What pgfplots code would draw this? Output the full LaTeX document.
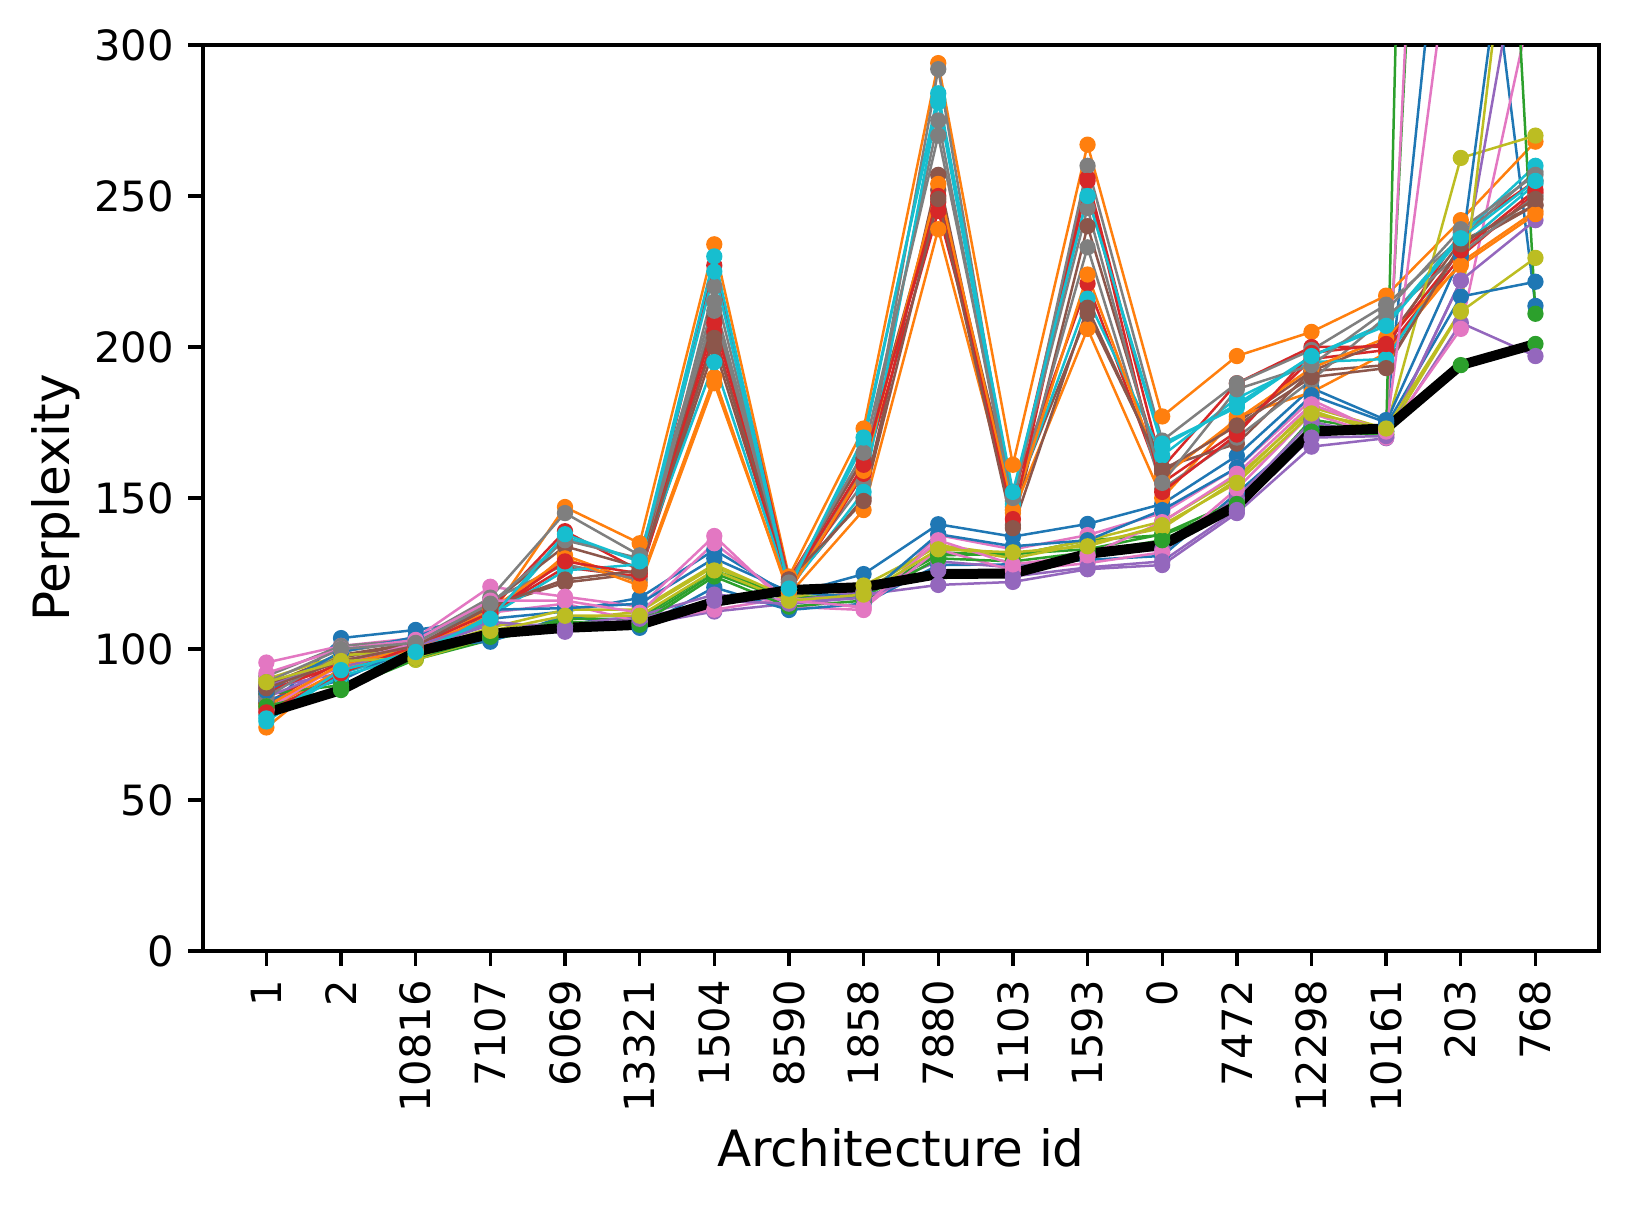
\documentclass[border=0pt]{standalone}
\usepackage{fontspec}
\setmainfont{DejaVu Sans}
\usepackage{pgfplots}
\pgfplotsset{compat=1.18}
\definecolor{tb}{HTML}{1F77B4}
\definecolor{to}{HTML}{FF7F0E}
\definecolor{tg}{HTML}{2CA02C}
\definecolor{tr}{HTML}{D62728}
\definecolor{tp}{HTML}{9467BD}
\definecolor{tn}{HTML}{8C564B}
\definecolor{tk}{HTML}{E377C2}
\definecolor{ty}{HTML}{7F7F7F}
\definecolor{tl}{HTML}{BCBD22}
\definecolor{tc}{HTML}{17BECF}
\pgfplotsset{ser/.style={color=#1, mark=*, mark size=1.8pt, line width=0.6pt, mark options={solid, line width=0.3pt}}}
\begin{document}
\begin{tikzpicture}
\useasboundingbox (-48.7pt,-61.4pt) rectangle (342.7pt,228.2pt);
\begin{axis}[at={(0,0)}, anchor=south west, scale only axis, width=335pt, height=217.4pt,
  xmin=-0.85, xmax=17.85, ymin=0, ymax=300,
  xtick={0,...,17},
  xticklabels={1,2,10816,7107,6069,13321,1504,8590,1858,7880,1103,1593,0,7472,12298,10161,203,768},
  xticklabel style={rotate=90, anchor=east},
  ytick={0,50,...,300},
  tick align=outside, tick pos=left, major tick length=3.5pt,
  axis line style={line width=0.8pt},
  every tick/.style={black, line width=0.8pt},
  xlabel={Architecture id}, ylabel={Perplexity},
  xlabel shift=-3pt, ylabel shift=-3.5pt,
  label style={font=\fontsize{12}{14}\selectfont},
  ticklabel style={font=\fontsize{10}{12}\selectfont},
  /pgf/number format/assume math mode=true,
  clip=true]
\addplot[ser=tb] coordinates {(0,80)(1,103.6)(2,106.3)(3,110)(4,112.4)(5,116.9)(6,132.8)(7,118)(8,124.8)(9,141.3)(10,137.2)(11,141.4)(12,148)(13,164)(14,186.4)(15,175.8)(16,414)(17,213.6)};
\addplot[ser=to] coordinates {(0,74)(1,94)(2,100)(3,111)(4,147)(5,135)(6,234)(7,124)(8,173)(9,294)(10,161)(11,267)(12,177)(13,197)(14,205)(15,217)(16,242)(17,268)};
\addplot[ser=tg] coordinates {(0,82)(1,86.4)(2,96.5)(3,103)(4,108)(5,109)(6,125)(7,116)(8,117)(9,132)(10,131)(11,136)(12,137.7)(13,147)(14,174)(15,172)(16,194)(17,201)};
\addplot[ser=tr] coordinates {(0,82)(1,96)(2,101)(3,113)(4,139)(5,126)(6,227)(7,123)(8,163)(9,248)(10,150)(11,256)(12,160)(13,188)(14,200)(15,200)(16,238)(17,255)};
\addplot[ser=tp] coordinates {(0,87)(1,92)(2,99)(3,106)(4,105.7)(5,108)(6,112.4)(7,115)(8,118)(9,121.2)(10,122.2)(11,126.4)(12,127.8)(13,145)(14,167)(15,169.8)(16,208)(17,197)};
\addplot[ser=tn] coordinates {(0,85)(1,97)(2,102)(3,114)(4,122)(5,125)(6,200)(7,121)(8,150)(9,257)(10,141)(11,240)(12,158)(13,175)(14,192)(15,194)(16,233)(17,247)};
\addplot[ser=tk] coordinates {(0,95.5)(1,101)(2,103.6)(3,120.6)(4,117.3)(5,114)(6,137.4)(7,114)(8,112.9)(9,137.7)(10,133)(11,137.7)(12,145)(13,160)(14,182.5)(15,171)(16,206)(17,320)};
\addplot[ser=ty] coordinates {(0,91)(1,101)(2,103)(3,117)(4,145)(5,131)(6,215)(7,122)(8,155)(9,292)(10,147)(11,260)(12,169)(13,188)(14,199)(15,214)(16,236)(17,258)};
\addplot[ser=tl] coordinates {(0,88)(1,97)(2,96.4)(3,104)(4,109.6)(5,112.4)(6,127.3)(7,116.2)(8,119)(9,134.4)(10,131)(11,136)(12,142.2)(13,157)(14,179)(15,171)(16,211.7)(17,229.5)};
\addplot[ser=tc] coordinates {(0,76)(1,92)(2,99)(3,109)(4,137)(5,129)(6,230)(7,120)(8,168)(9,284)(10,151)(11,250)(12,167)(13,181)(14,197)(15,208)(16,237)(17,260)};
\addplot[ser=tb] coordinates {(0,83)(1,89.7)(2,101)(3,102.4)(4,111)(5,107)(6,120.4)(7,112.9)(8,115)(9,127.8)(10,128)(11,129.5)(12,130.8)(13,151.6)(14,173)(15,174)(16,216.7)(17,221.6)};
\addplot[ser=to] coordinates {(0,80)(1,93)(2,100)(3,110)(4,131)(5,122)(6,190)(7,118)(8,146)(9,239)(10,145)(11,206)(12,150)(13,177)(14,185)(15,198)(16,228)(17,245)};
\addplot[ser=tg] coordinates {(0,85)(1,88)(2,97)(3,104)(4,110)(5,110)(6,126)(7,117)(8,118)(9,131)(10,131.5)(11,133)(12,138)(13,149)(14,176)(15,172)(16,655)(17,211)};
\addplot[ser=tr] coordinates {(0,86)(1,95)(2,101)(3,112)(4,127)(5,124)(6,205)(7,119)(8,158)(9,245)(10,152)(11,221)(12,155)(13,172)(14,196)(15,199)(16,230)(17,251)};
\addplot[ser=tp] coordinates {(0,84)(1,94)(2,100)(3,108)(4,108)(5,111)(6,118)(7,116)(8,119)(9,129)(10,127)(11,131)(12,133)(13,150)(14,175.3)(15,170)(16,222)(17,242)};
\addplot[ser=tn] coordinates {(0,88)(1,98)(2,102)(3,115)(4,134)(5,127)(6,210)(7,122)(8,163)(9,252)(10,149)(11,211)(12,160)(13,168)(14,192)(15,202)(16,235)(17,247)};
\addplot[ser=tk] coordinates {(0,79.8)(1,95)(2,102)(3,112)(4,115)(5,109)(6,113)(7,117)(8,113.5)(9,133)(10,126)(11,128.4)(12,132)(13,153)(14,178)(15,170)(16,680)(17,600)};
\addplot[ser=ty] coordinates {(0,84)(1,99)(2,103)(3,116)(4,128)(5,123)(6,220)(7,121)(8,160)(9,275)(10,146)(11,233)(12,153)(13,170)(14,189)(15,210)(16,231)(17,250)};
\addplot[ser=tl] coordinates {(0,90)(1,98)(2,99)(3,107)(4,113)(5,113)(6,128)(7,117)(8,121)(9,134)(10,130)(11,135)(12,140)(13,156)(14,180)(15,173)(16,262.6)(17,270)};
\addplot[ser=tc] coordinates {(0,78)(1,91)(2,98)(3,111)(4,126)(5,128)(6,195)(7,120)(8,152)(9,281)(10,148)(11,216)(12,164)(13,183)(14,195)(15,196)(16,233)(17,254)};
\addplot[ser=tb] coordinates {(0,86)(1,99)(2,104)(3,113)(4,113.5)(5,115)(6,130)(7,119)(8,117)(9,138)(10,134)(11,136)(12,146)(13,160)(14,184)(15,175)(16,230)(17,415)};
\addplot[ser=to] coordinates {(0,81)(1,95)(2,100)(3,113)(4,130)(5,121)(6,188)(7,119)(8,159)(9,254)(10,146)(11,224)(12,157)(13,176)(14,193)(15,203)(16,227)(17,244)};
\addplot[ser=tg] coordinates {(0,81)(1,87)(2,98)(3,105)(4,109)(5,108)(6,124)(7,114)(8,116)(9,130)(10,129)(11,132)(12,136)(13,148)(14,172)(15,171)(16,1200)(17,900)};
\addplot[ser=tr] coordinates {(0,79)(1,92)(2,101)(3,112)(4,129)(5,125)(6,208)(7,121)(8,161)(9,250)(10,143)(11,255)(12,152)(13,171)(14,198)(15,201)(16,232)(17,252)};
\addplot[ser=tp] coordinates {(0,87.5)(1,96)(2,101)(3,109)(4,107)(5,110)(6,116)(7,115)(8,117)(9,126)(10,124)(11,127)(12,129)(13,146)(14,170)(15,170.5)(16,222)(17,362)};
\addplot[ser=tn] coordinates {(0,87)(1,96)(2,101)(3,114)(4,123)(5,126)(6,203)(7,123)(8,149)(9,249)(10,140)(11,213)(12,159)(13,174)(14,190)(15,193)(16,234)(17,249)};
\addplot[ser=tk] coordinates {(0,92)(1,100)(2,103)(3,116)(4,116)(5,112)(6,135)(7,116)(8,114)(9,136)(10,128)(11,131)(12,142)(13,158)(14,181)(15,172)(16,360)(17,330)};
\addplot[ser=ty] coordinates {(0,89)(1,100)(2,102)(3,115)(4,136)(5,130)(6,212)(7,122)(8,165)(9,270)(10,150)(11,246)(12,155)(13,186)(14,194)(15,212)(16,239)(17,257)};
\addplot[ser=tl] coordinates {(0,89)(1,96)(2,97)(3,106)(4,111)(5,111)(6,126)(7,116)(8,118)(9,133)(10,132)(11,134)(12,141)(13,155)(14,178)(15,173)(16,212)(17,420)};
\addplot[ser=tc] coordinates {(0,77)(1,93)(2,99)(3,110)(4,138)(5,129)(6,225)(7,120)(8,170)(9,282)(10,152)(11,250)(12,168)(13,180)(14,197)(15,207)(16,236)(17,255)};
\addplot[black, line width=2.4pt, no marks] coordinates {(0,78.8)(1,86.4)(2,99)(3,105)(4,107)(5,108)(6,115.6)(7,119.5)(8,120.5)(9,124.8)(10,125)(11,131.5)(12,134.4)(13,147.5)(14,172)(15,173)(16,194)(17,201)};
\end{axis}
\end{tikzpicture}
\end{document}
